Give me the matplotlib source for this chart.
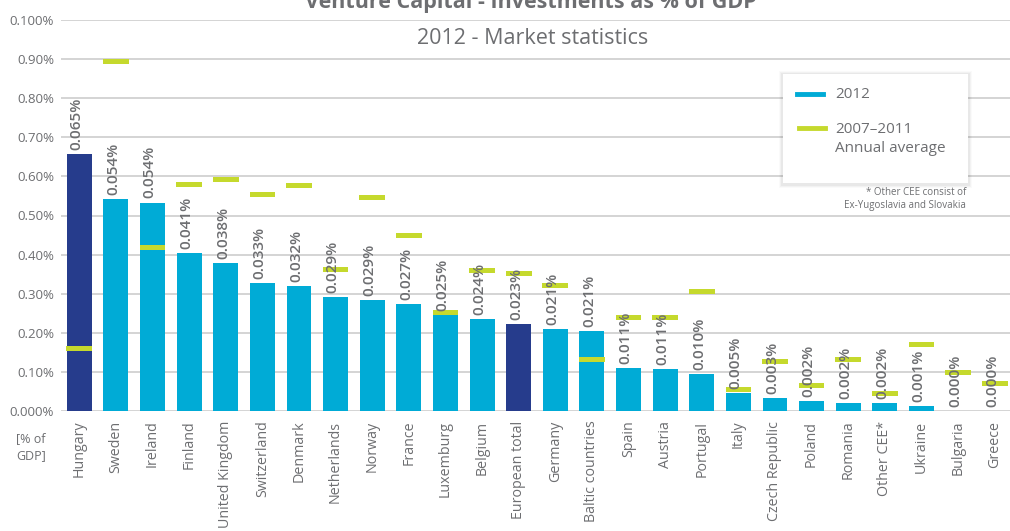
import matplotlib
matplotlib.use("Agg")
import matplotlib.pyplot as plt
from matplotlib.lines import Line2D

plt.rcParams['font.family'] = ['Open Sans', 'DejaVu Sans']

categories = ["Hungary", "Sweden", "Ireland", "Finland", "United Kingdom", "Switzerland",
              "Denmark", "Netherlands", "Norway", "France", "Luxemburg", "Belgium",
              "European total", "Germany", "Baltic countries", "Spain", "Austria", "Portugal",
              "Italy", "Czech Republic", "Poland", "Romania", "Other CEE*", "Ukraine",
              "Bulgaria", "Greece"]
values_2012 = [0.657, 0.542, 0.533, 0.403, 0.378, 0.328, 0.320, 0.292, 0.284, 0.274,
               0.246, 0.235, 0.223, 0.210, 0.205, 0.109, 0.107, 0.095, 0.045, 0.032,
               0.026, 0.020, 0.020, 0.012, 0.0, 0.0]
avg_2007_2011 = [0.161, 0.893, 0.417, 0.580, 0.593, 0.554, 0.577, 0.362, 0.547, 0.449,
                 0.252, 0.360, 0.352, 0.321, 0.132, 0.240, 0.240, 0.306, 0.056, 0.127,
                 0.066, 0.132, 0.045, 0.171, 0.099, 0.071]
value_labels = ["0.065%", "0.054%", "0.054%", "0.041%", "0.038%", "0.033%", "0.032%",
                "0.029%", "0.029%", "0.027%", "0.025%", "0.024%", "0.023%", "0.021%",
                "0.021%", "0.011%", "0.011%", "0.010%", "0.005%", "0.003%", "0.002%",
                "0.002%", "0.002%", "0.001%", "0.000%", "0.000%"]
highlight = ["Hungary", "European total"]
y_ticks = [0.0, 0.1, 0.2, 0.3, 0.4, 0.5, 0.6, 0.7, 0.8, 0.9, 1.0]
y_tick_labels = ["0.000%", "0.10%", "0.20%", "0.30%", "0.40%", "0.50%", "0.60%",
                 "0.70%", "0.80%", "0.90%", "0.100%"]

BLUE = "#00abd6"
NAVY = "#263c8c"
GREEN = "#c5d92d"
GREY = "#6d6e71"
GRID = "#c9c9c9"

fig = plt.figure(figsize=(10.10, 5.31), dpi=100)
ax = fig.add_axes([61/1010, 1 - 411/531, (1013 - 61)/1010, (411 - 20)/531])

x = list(range(len(categories)))
colors = [NAVY if c in highlight else BLUE for c in categories]
ax.bar(x, values_2012, width=0.68, color=colors, zorder=3)
ax.bar(x, [0.013]*len(x), bottom=[v - 0.0065 for v in avg_2007_2011], width=0.70,
       color=GREEN, zorder=4)

for xi, v, lab in zip(x, values_2012, value_labels):
    ax.annotate(lab, (xi, v), xytext=(-2, 3), textcoords="offset points",
                rotation=90, ha="center", va="bottom", fontsize=11, color=GREY,
                fontweight="semibold", zorder=5)

ax.set_xlim(-0.5, 25.5)
ax.set_ylim(0, 1.0)
ax.set_yticks(y_ticks)
ax.set_yticklabels(y_tick_labels, fontsize=9.5, color=GREY)
ax.set_xticks(x)
ax.set_xticklabels(categories, rotation=90, fontsize=10.3, color=GREY)
ax.tick_params(axis="x", length=0, pad=7)
ax.tick_params(axis="y", length=0, pad=5)
ax.grid(axis="y", color=GRID, lw=1.1, zorder=0)
for s in ax.spines.values():
    s.set_visible(False)

fig.text(31/1010, 1 - 447/531, "[% of\nGDP]", ha="center", va="center",
         fontsize=9, color=GREY, linespacing=1.45)

fig.text(531/1010, 1 - 8/531, "Venture Capital - Investments as % of GDP",
         ha="center", va="baseline", fontsize=15.5, fontweight="bold", color=GREY)
fig.text(533/1010, 1 - 38/531, "2012 - Market statistics", ha="center", va="center",
         fontsize=15.5, color=GREY)

# legend box with soft shadow
for i, a in enumerate([0.02, 0.03, 0.04]):
    d = 4 - i
    sh = plt.Rectangle(((783 - d)/1010, 1 - (183 + d + 1)/531), (185 + 2*d)/1010,
                       (109 + 2*d)/531, transform=fig.transFigure, facecolor="black",
                       alpha=a, edgecolor="none", zorder=8)
    fig.add_artist(sh)
box = plt.Rectangle((783/1010, 1 - 183/531), 185/1010, 109/531,
                    transform=fig.transFigure, facecolor="white", edgecolor="none",
                    zorder=9)
fig.add_artist(box)
fig.add_artist(Line2D([797/1010, 823/1010], [1 - 94/531, 1 - 94/531], color=BLUE,
                      lw=3.5, transform=fig.transFigure, zorder=10))
fig.add_artist(Line2D([799/1010, 825/1010], [1 - 128/531, 1 - 128/531], color=GREEN,
                      lw=3.5, transform=fig.transFigure, zorder=10))
fig.text(835/1010, 1 - 95/531, "2012", ha="left", va="center", fontsize=11,
         color=GREY, zorder=11)
fig.text(835/1010, 1 - 139/531, "2007\u20132011\nAnnual average", ha="left",
         va="center", fontsize=11, color=GREY, linespacing=1.45, zorder=11)
fig.text(966/1010, 1 - 199/531, "* Other CEE consist of\nEx-Yugoslavia and Slovakia",
         ha="right", va="center", fontsize=7, color=GREY, linespacing=1.35,
         bbox=dict(facecolor="white", edgecolor="none", pad=1))

fig.savefig("out.png", dpi=100)
